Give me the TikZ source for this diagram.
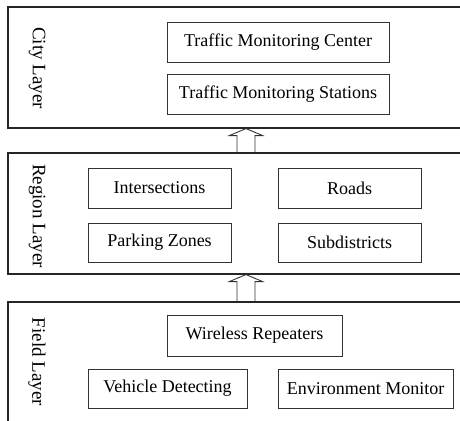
\documentclass[tikz,border=0pt]{standalone}
\usepackage{fontspec}
\setmainfont{Liberation Serif}
\usepackage{tikz}
\usetikzlibrary{calc}
\tikzstyle{layer} = [rectangle, draw=black!85, line width=1.1pt, minimum width=462pt, inner sep=0pt]
\tikzstyle{unit} = [rectangle, draw=black!80, line width=0.9pt, text centered, minimum height=40pt, inner sep=0pt]
\tikzstyle{layerlabel} = [rotate=-90, text centered, inner sep=0pt, font=\fontsize{19}{21}\selectfont]
\tikzstyle{flow} = [draw=black!80, line width=0.9pt]
% hollow block arrow from #1 (bottom) up to #2 (tip)
\newcommand{\hollowup}[2]{%
    \draw [flow] ($(#1)+(-9,0)$) -- ($(#2)+(-9,7)$) -- ($(#2)+(-16.5,7)$) -- (#2)
        -- ($(#2)+(16.5,7)$) -- ($(#2)+(9,7)$) -- ($(#1)+(9,0)$);
}
\begin{document}
\begin{tikzpicture}[x=1pt, y=-1pt, font=\fontsize{18}{20}\selectfont]
    \useasboundingbox [fill=white] (0,0) rectangle (460,420);
        % layers
        \node (city) [layer, minimum height=121pt] at (239,67.5) {};
        \node (region) [layer, minimum height=121pt] at (239,213.5) {};
        \node (field) [layer, minimum height=128pt] at (239,366) {};
        \node (citylbl) [layerlabel] at (37,68) {City Layer};
        \node (regionlbl) [layerlabel] at (37,216) {Region Layer};
        \node (fieldlbl) [layerlabel] at (37,362) {Field Layer};
        % city layer
        \node (center) [unit, minimum width=222pt] at (278,42) {Traffic Monitoring Center};
        \node (stations) [unit, minimum width=222pt] at (278,94) {Traffic Monitoring Stations};
        % region layer
        \node (inter) [unit, minimum width=143pt] at (159.5,188) {Intersections};
        \node (roads) [unit, minimum width=143pt] at (349.5,188) {Roads};
        \node (parking) [unit, minimum width=143pt, minimum height=39pt] at (159.5,242.5) {Parking Zones};
        \node (subdist) [unit, minimum width=143pt, minimum height=39pt] at (349.5,242.5) {Subdistricts};
        % field layer
        \node (repeat) [unit, minimum width=175pt, minimum height=41pt] at (254.5,335.5) {Wireless Repeaters};
        \node (vehicle) [unit, minimum width=159pt, minimum height=39pt] at (167.5,388.5) {Vehicle Detecting};
        \node (envmon) [unit, minimum width=175pt, minimum height=39pt] at (365.5,388.5) {Environment Monitor};
        % arrows between layers
        \coordinate (upA) at ($(city.south)+(7,0)$);
        \coordinate (lowA) at ($(region.north)+(7,0)$);
        \coordinate (upB) at ($(region.south)+(7,0)$);
        \coordinate (lowB) at ($(field.north)+(7,0)$);
        \hollowup{lowA}{upA}
        \hollowup{lowB}{upB}
    \end{tikzpicture}
\end{document}
